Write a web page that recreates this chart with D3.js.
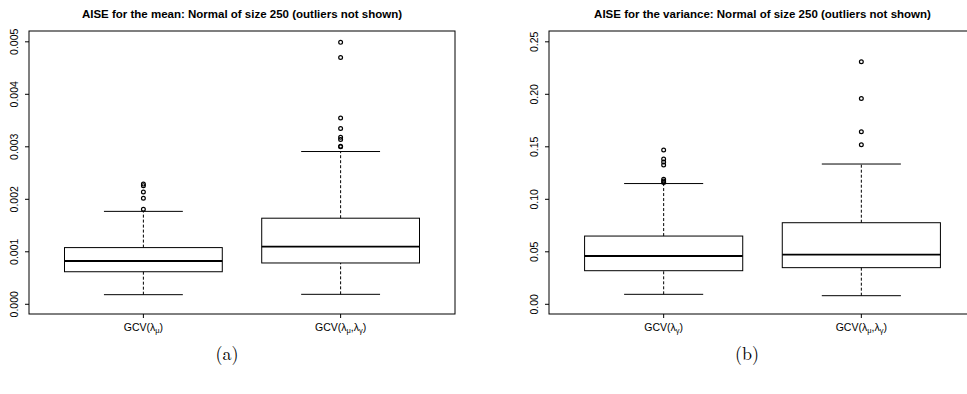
<!DOCTYPE html>
<html>
<head>
<meta charset="utf-8">
<script src="https://cdn.jsdelivr.net/npm/d3@7"></script>
<style>
  body { margin: 0; background: #fff; }
  text { font-family: "Liberation Sans", Arial, sans-serif; fill: #000; }
</style>
</head>
<body>
<svg id="Vis" width="967" height="394"></svg>
<script>
/*
* DATA
*/

const categoriesMean = [["GCV(λ", "μ", ")"], ["GCV(λ", "μ", ",λ", "γ", ")"]];
const categoriesVar = [["GCV(λ", "γ", ")"], ["GCV(λ", "μ", ",λ", "γ", ")"]];

// [lower whisker, Q1, median, Q3, upper whisker]
const statsMean = [
  [0.000183, 0.00062, 0.000825, 0.00108, 0.00177],
  [0.00019, 0.000787, 0.0011, 0.00164, 0.00291]
];
const outliersMean = [
  [0.00181, 0.00202, 0.00214, 0.00226, 0.00229],
  [0.003, 0.00301, 0.00314, 0.00318, 0.00335, 0.00355, 0.0047, 0.00499]
];
const ticksMean = [0, 0.001, 0.002, 0.003, 0.004, 0.005];

const statsVar = [
  [0.0095, 0.032, 0.046, 0.065, 0.115],
  [0.0082, 0.0349, 0.0473, 0.0777, 0.1336]
];
const outliersVar = [
  [0.116, 0.1174, 0.119, 0.1327, 0.1355, 0.1384, 0.147],
  [0.152, 0.1644, 0.196, 0.231]
];
const ticksVar = [0, 0.05, 0.10, 0.15, 0.20, 0.25];

const svg = d3.select("svg#Vis");

/*
* PANELS
*/

drawPanel({
  left: 29, right: 455,
  title: "AISE for the mean: Normal of size 250 (outliers not shown)",
  yDomain: [-0.000185, 0.005206],
  ticks: ticksMean, fmt: d3.format(".3f"),
  cats: categoriesMean, stats: statsMean, outliers: outliersMean,
  tag: "(a)", titleX: 242, tagX: 227
});

drawPanel({
  left: 549, right: 976,
  title: "AISE for the variance: Normal of size 250 (outliers not shown)",
  yDomain: [-0.00924, 0.2603],
  ticks: ticksVar, fmt: d3.format(".2f"),
  cats: categoriesVar, stats: statsVar, outliers: outliersVar,
  tag: "(b)", titleX: 762.5, tagX: 747
});

function drawPanel(p) {
  const top = 31, bottom = 314;
  const g = svg.append("g");

  const x = d3.scaleLinear().domain([0.42, 2.58]).range([p.left, p.right]);
  const y = d3.scaleLinear().domain(p.yDomain).range([bottom, top]);
  const unit = x(1) - x(0);

  /* title */
  g.append("text")
    .attr("x", p.titleX).attr("y", 18)
    .attr("text-anchor", "middle")
    .style("font-size", "11.5px").style("font-weight", "bold")
    .text(p.title);

  /* boxes */
  p.stats.forEach(function(s, i) {
    const cx = x(i + 1);
    const bw = 0.8 * unit, cw = 0.4 * unit;

    // whiskers
    g.append("line").attr("x1", cx).attr("x2", cx).attr("y1", y(s[3])).attr("y2", y(s[4]))
      .attr("stroke", "#000").attr("stroke-dasharray", "3,2");
    g.append("line").attr("x1", cx).attr("x2", cx).attr("y1", y(s[0])).attr("y2", y(s[1]))
      .attr("stroke", "#000").attr("stroke-dasharray", "3,2");
    // caps
    [s[0], s[4]].forEach(function(v) {
      g.append("line").attr("x1", cx - cw / 2).attr("x2", cx + cw / 2)
        .attr("y1", y(v)).attr("y2", y(v)).attr("stroke", "#000");
    });
    // box
    g.append("rect")
      .attr("x", cx - bw / 2).attr("width", bw)
      .attr("y", y(s[3])).attr("height", y(s[1]) - y(s[3]))
      .attr("fill", "none").attr("stroke", "#000");
    // median
    g.append("line").attr("x1", cx - bw / 2).attr("x2", cx + bw / 2)
      .attr("y1", y(s[2])).attr("y2", y(s[2]))
      .attr("stroke", "#000").attr("stroke-width", 1.8);

    g.selectAll(null).data(p.outliers[i]).join("circle")
      .attr("cx", cx).attr("cy", d => y(d)).attr("r", 1.9)
      .attr("fill", "none").attr("stroke", "#000").attr("stroke-width", 1.2);
  });

  /* frame */
  g.append("rect")
    .attr("x", p.left).attr("y", top)
    .attr("width", p.right - p.left).attr("height", bottom - top)
    .attr("fill", "none").attr("stroke", "#000");

  /* y axis */
  p.ticks.forEach(function(t) {
    g.append("line").attr("x1", p.left - 4).attr("x2", p.left)
      .attr("y1", y(t)).attr("y2", y(t)).attr("stroke", "#000");
    g.append("text")
      .attr("transform", "translate(" + (p.left - 11) + "," + y(t) + ") rotate(-90)")
      .attr("text-anchor", "middle")
      .style("font-size", "10.5px")
      .text(p.fmt(t));
  });

  /* x axis */
  p.cats.forEach(function(parts, i) {
    const cx = x(i + 1);
    g.append("line").attr("x1", cx).attr("x2", cx)
      .attr("y1", bottom).attr("y2", bottom + 4).attr("stroke", "#000");
    const t = g.append("text")
      .attr("x", cx).attr("y", 331)
      .attr("text-anchor", "middle")
      .style("font-size", "10.5px");
    parts.forEach(function(part, j) {
      const sub = j % 2 === 1;
      t.append("tspan")
        .attr("dy", sub ? 2 : (j === 0 ? 0 : -2))
        .style("font-size", sub ? "7.5px" : "10.5px")
        .text(part);
    });
  });

  /* panel tag */
  svg.append("text")
    .attr("x", p.tagX).attr("y", 360)
    .attr("text-anchor", "middle")
    .style("font-family", "'Latin Modern Roman', 'Liberation Serif', serif")
    .style("font-size", "18px")
    .text(p.tag);
}
</script>
</body>
</html>
